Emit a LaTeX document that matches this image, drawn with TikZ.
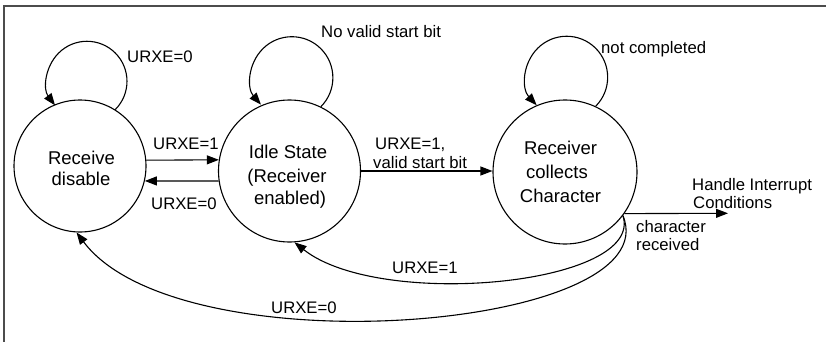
\documentclass[tikz,border=0pt]{standalone}
\usepackage{fontspec}
\setmainfont{Liberation Sans}
\usetikzlibrary{arrows.meta}
\begin{document}
\begin{tikzpicture}[x=1pt,y=-1pt,
  state/.style={draw, circle, line width=1.1pt, inner sep=0pt},
  ctext/.style={anchor=base, inner sep=0pt, font=\fontsize{18.5}{22}\selectfont},
  lbl/.style={anchor=base west, inner sep=0pt, font=\fontsize{16.7}{18}\selectfont},
  conn/.style={line width=1.1pt, -{Triangle[length=12pt,width=9pt]}},
  frameline/.style={line width=1.2pt, black!70}]
\useasboundingbox (0,0) rectangle (826,342);
\draw[frameline] (4,342) -- (4,6) -- (826,6);

% states
\node[state, minimum size=132pt] (rd) at (80,166) {};
\node[state, minimum size=142pt] (idle) at (289.5,171) {};
\node[state, minimum size=144pt] (rc) at (565,172) {};

% state texts
\node[ctext] (rd1) at (81.5,164) {Receive};
\node[ctext] (rd2) at (81,185) {disable};
\node[ctext] (id1) at (288,158) {Idle State};
\node[ctext] (id2) at (287,182) {(Receiver};
\node[ctext] (id3) at (290,204) {enabled)};
\node[ctext] (rc1) at (560.5,154) {Receiver};
\node[ctext] (rc2) at (557,178) {collects};
\node[ctext] (rc3) at (560.5,202) {Character};

% self loops
\draw[conn] (rd.58) arc[start angle=-45, end angle=217, radius=40pt];
\draw[conn] (idle.64) arc[start angle=-45, end angle=221, radius=41pt];
\draw[conn] (rc.65) arc[start angle=-45, end angle=223, radius=41pt];

% straight transitions
\draw[conn] (rd.5) -- (idle.171);
\draw[conn] (idle.188) -- (rd.-13);
\draw[conn] (idle.0) -- (idle.0 -| rc.west);
\coordinate (hend) at (728,213.3);
\draw[conn] (rc.-35) -- (hend);

% curved returns
\draw[conn] (rc.-37) .. controls (645,285) and (380,310) .. (idle.-86);
\draw[conn] (rc.-37) .. controls (670,330) and (180,370) .. (rd.-93);

% labels
\node[lbl] (l1) at (127,63) {URXE=0};
\node[lbl] (l2) at (321,38) {No valid start bit};
\node[lbl] (l3) at (601,54) {not completed};
\node[lbl] (l4) at (153,149) {URXE=1};
\node[lbl] (l5) at (151,209) {URXE=0};
\node[lbl] (l6) at (375,149) {URXE=1,};
\node[lbl] (l7) at (373,168) {valid start bit};
\node[lbl] (l8) at (692,190) {Handle Interrupt};
\node[lbl] (l9) at (693,208) {Conditions};
\node[lbl] (l10) at (636,232) {character};
\node[lbl] (l11) at (636,250) {received};
\node[lbl] (l12) at (392,273) {URXE=1};
\node[lbl] (l13) at (271,313) {URXE=0};
\end{tikzpicture}
\end{document}
